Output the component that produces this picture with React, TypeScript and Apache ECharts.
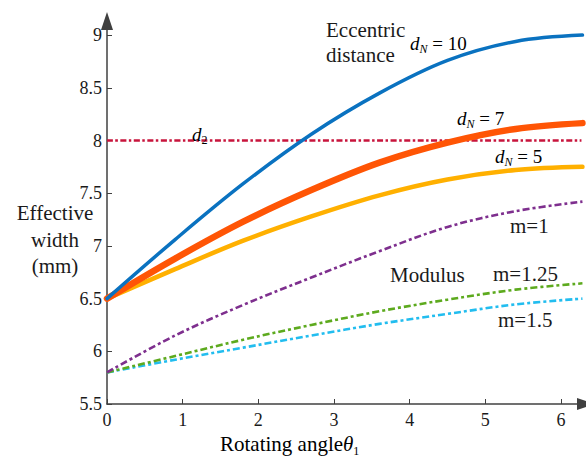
import React, { useEffect, useRef } from "react";
import * as echarts from "echarts";

const xs = [0, 0.9, 1.8, 2.7, 3.6, 4.5, 5.4, 6.283];
const dN10 = [6.5, 7.06, 7.59, 8.06, 8.45, 8.76, 8.94, 9.0];
const dN7 = [6.5, 6.88, 7.23, 7.53, 7.79, 7.98, 8.11, 8.165];
const dN5 = [6.5, 6.78, 7.05, 7.28, 7.48, 7.63, 7.72, 7.75];
const m1 = [5.8, 6.15, 6.44, 6.7, 6.95, 7.18, 7.33, 7.42];
const m125 = [5.8, 5.955, 6.11, 6.25, 6.38, 6.49, 6.585, 6.645];
const m15 = [5.8, 5.92, 6.035, 6.15, 6.26, 6.355, 6.445, 6.5];
const d2X = [0, 6.27];
const d2Y = [8, 8];
const xTicks = [0, 1, 2, 3, 4, 5, 6];
const yTicks = [5.5, 6, 6.5, 7, 7.5, 8, 8.5, 9];

const FONT = "Liberation Serif";
const TXT = "#1a1a1a";

const pairs = (x: number[], y: number[]) => x.map((v, i) => [v, y[i]]);

export default function App() {
  const ref = useRef<HTMLDivElement>(null);
  useEffect(() => {
    if (!ref.current) return;
    const chart = echarts.init(ref.current, null, { renderer: "svg" });
    const dashDot = [7, 3, 3, 3];
    const line = (name: string, y: number[], color: string, width: number, type: any = "solid", x = xs, cap = "round") => ({
      name,
      type: "line",
      data: pairs(x, y),
      smooth: 0.35,
      showSymbol: false,
      symbol: "none",
      lineStyle: { color, width, type, cap },
      z: 3,
    });
    const sub = { fontFamily: FONT, fontSize: 12, verticalAlign: "bottom", lineHeight: 14, color: TXT };
    const rich = {
      d: { fontFamily: FONT, fontSize: 19, fontStyle: "italic", lineHeight: 24, color: TXT },
      n: { ...sub, fontStyle: "italic" },
      s: { ...sub },
      r: { fontFamily: FONT, fontSize: 19, lineHeight: 24, color: TXT },
    };
    const txt = (text: string, x: number, y: number, size = 21, align = "left") => ({
      type: "text",
      x,
      y,
      style: { text, fontFamily: FONT, fontSize: size, fill: TXT, align, verticalAlign: "middle" },
      z: 10,
    });
    const rt = (text: string, x: number, y: number) => ({
      type: "text",
      x,
      y,
      style: { text, rich, align: "left", verticalAlign: "middle" },
      z: 10,
    });
    chart.setOption({
      animation: false,
      grid: { left: 107, top: 21, width: 480, height: 383 },
      xAxis: {
        type: "value",
        min: 0,
        max: 6.33,
        splitLine: { show: false },
        axisLine: {
          lineStyle: { color: "#404040", width: 1.5 },
          symbol: ["none", "triangle"],
          symbolSize: [12, 18],
        },
        axisTick: { inside: true, length: 5, lineStyle: { color: "#404040" }, customValues: xTicks },
        axisLabel: { customValues: xTicks, fontFamily: FONT, fontSize: 18, color: TXT, margin: 7 },
      },
      yAxis: {
        type: "value",
        min: 5.5,
        max: 9.134,
        splitLine: { show: false },
        axisLine: {
          lineStyle: { color: "#404040", width: 1.5 },
          symbol: ["none", "triangle"],
          symbolSize: [12, 18],
        },
        axisTick: { inside: true, length: 5, lineStyle: { color: "#404040" }, customValues: yTicks },
        axisLabel: { customValues: yTicks, fontFamily: FONT, fontSize: 18, color: TXT, margin: 5 },
      },
      series: [
        line("d2", d2Y, "#C8143C", 2.4, [6, 2.5, 2.5, 2.5], d2X, "butt"),
        line("m=1.5", m15, "#22BDEF", 2.6, dashDot, xs, "butt"),
        line("m=1.25", m125, "#5DAA1E", 2.6, dashDot, xs, "butt"),
        line("m=1", m1, "#7E2F8E", 2.6, dashDot, xs, "butt"),
        line("dN=5", dN5, "#FFB000", 4.5),
        line("dN=7", dN7, "#FF5505", 6.5),
        line("dN=10", dN10, "#0A72C0", 3.5),
      ],
      graphic: [
        txt("Eccentric", 326, 30),
        txt("distance", 326, 55),
        rt("{d|d}{n|N}{r| = 10}", 410, 43),
        rt("{d|d}{n|N}{r| = 7}", 457, 118),
        rt("{d|d}{n|N}{r| = 5}", 495, 156),
        rt("{d|d}{s|2}", 192, 134),
        txt("m=1", 510, 226),
        txt("Modulus", 390, 275),
        txt("m=1.25", 493, 274),
        txt("m=1.5", 498, 320),
        txt("Effective", 55, 213, 21, "center"),
        txt("width", 55, 240, 21, "center"),
        txt("(mm)", 55, 266, 21, "center"),
        {
          type: "text",
          x: 220,
          y: 444,
          style: {
            text: "{r|Rotating angle}{t|θ}{s|1}",
            rich: {
              r: { fontFamily: FONT, fontSize: 21, lineHeight: 26, color: TXT },
              t: { fontFamily: FONT, fontSize: 21, fontStyle: "italic", lineHeight: 26, color: TXT },
              s: { ...sub },
            },
            align: "left",
            verticalAlign: "middle",
          },
          z: 10,
        },
      ],
    });
    return () => chart.dispose();
  }, []);
  return (
    <div
      ref={ref}
      style={{ position: "fixed", left: 0, top: 0, width: 586, height: 458, background: "#fff" }}
    />
  );
}
